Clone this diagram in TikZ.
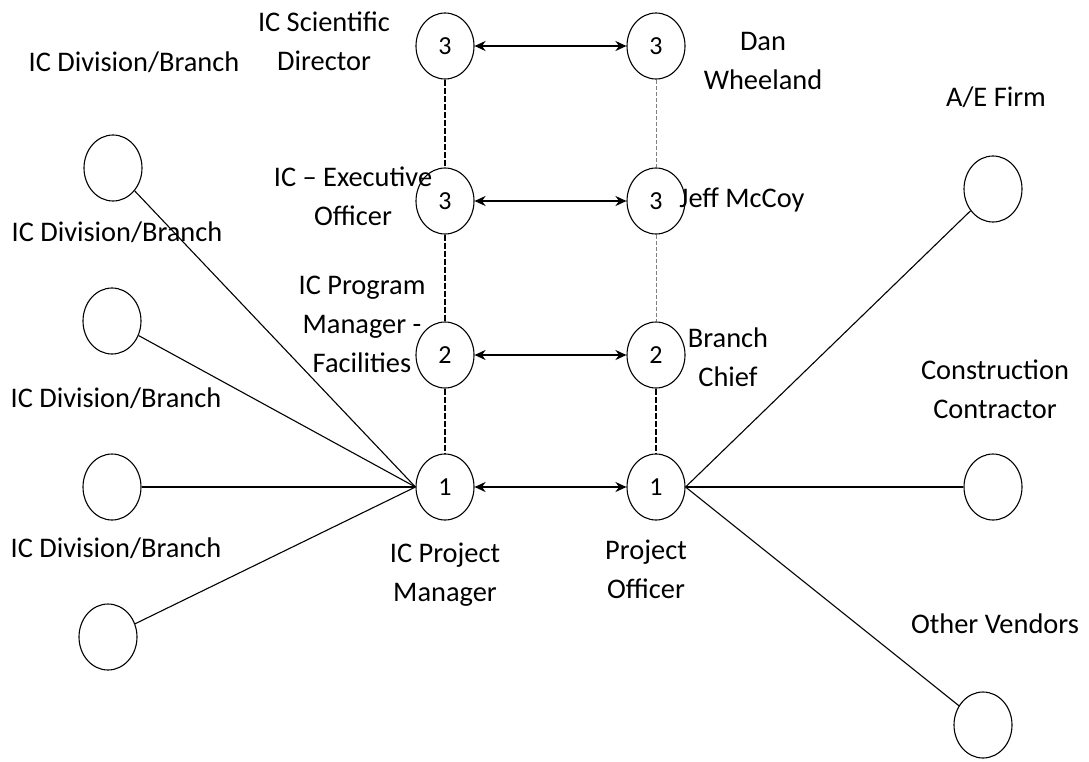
\documentclass[tikz,border=0pt]{standalone}
\usepackage{fontspec}
\setmainfont{Carlito}
\usetikzlibrary{arrows.meta,shapes.geometric}

\begin{document}
\begin{tikzpicture}[x=1pt, y=-1pt, >=Stealth,
  role/.style={ellipse, draw, line width=1.1pt, minimum width=58pt,
    minimum height=66pt, inner sep=0pt, font=\fontsize{26}{30}\selectfont},
  lbl/.style={align=center, anchor=base, font=\fontsize{28.4}{39}\selectfont},
  link/.style={<->, line width=2.2pt, >={Stealth[length=11pt,width=10pt]}},
  spoke/.style={line width=1.1pt},
  chain/.style={line width=1.2pt, dash pattern=on 6pt off 2pt},
  chainlt/.style={gray, line width=0.9pt, dash pattern=on 4pt off 2pt}]
  \useasboundingbox (0,0) rectangle (1089,761);

  % the two ladders
  \node[role] (L3a) at (445,46) {3};
  \node[role] (L3b) at (445,201) {3};
  \node[role] (L2) at (445,355) {2};
  \node[role] (L1) at (445,487) {1};
  \node[role] (R3a) at (656,46) {3};
  \node[role] (R3b) at (656,201) {3};
  \node[role] (R2) at (656,355) {2};
  \node[role] (R1) at (656,487) {1};

  % outer contacts
  \node[role] (div1) at (113,168) {};
  \node[role] (div2) at (112,321) {};
  \node[role] (div3) at (112,487) {};
  \node[role] (div4) at (108,637) {};
  \node[role] (firm) at (993,189) {};
  \node[role] (contr) at (993,487) {};
  \node[role] (vend) at (983,725) {};

  \draw[chain] (L3a) -- (L3b);
  \draw[chain] (L3b) -- (L2);
  \draw[chain] (L2) -- (L1);
  \draw[chainlt] (R3a) -- (R3b);
  \draw[chainlt] (R3b) -- (R2);
  \draw[chain] (R2) -- (R1);

  \draw[link] (L3a) -- (R3a);
  \draw[link] (L3b) -- (R3b);
  \draw[link] (L2) -- (R2);
  \draw[link] (L1) -- (R1);

  \foreach \d in {div1,div2,div3,div4}
    \draw[spoke] (\d) -- (L1.west);
  \foreach \v in {firm,contr,vend}
    \draw[spoke] (R1.east) -- (\v);

  % labels (base = last line)
  \node[lbl] (tdiv1) at (134,71) {IC Division/Branch};
  \node[lbl] (tdiv2) at (117,241) {IC Division/Branch};
  \node[lbl] (tdiv3) at (116,407) {IC Division/Branch};
  \node[lbl] (tdiv4) at (116,557) {IC Division/Branch};
  \node[lbl] (tsci) at (324,70) {IC Scientific\\Director};
  \node[lbl] (texec) at (353,225) {IC – Executive\\Officer};
  \node[lbl] (tprog) at (362,372) {IC Program\\Manager -\\Facilities};
  \node[lbl] (tpm) at (445,601) {IC Project\\Manager};
  \node[lbl] (tpo) at (646,598) {Project\\Officer};
  \node[lbl] (tdan) at (763,89) {Dan\\Wheeland};
  \node[lbl] (tjeff) at (742,207) {Jeff McCoy};
  \node[lbl] (tchief) at (728,386) {Branch\\Chief};
  \node[lbl] (tfirm) at (996,106) {A/E Firm};
  \node[lbl] (tcontr) at (995,418) {Construction\\Contractor};
  \node[lbl] (tvend) at (995,633) {Other Vendors};
\end{tikzpicture}
\end{document}
